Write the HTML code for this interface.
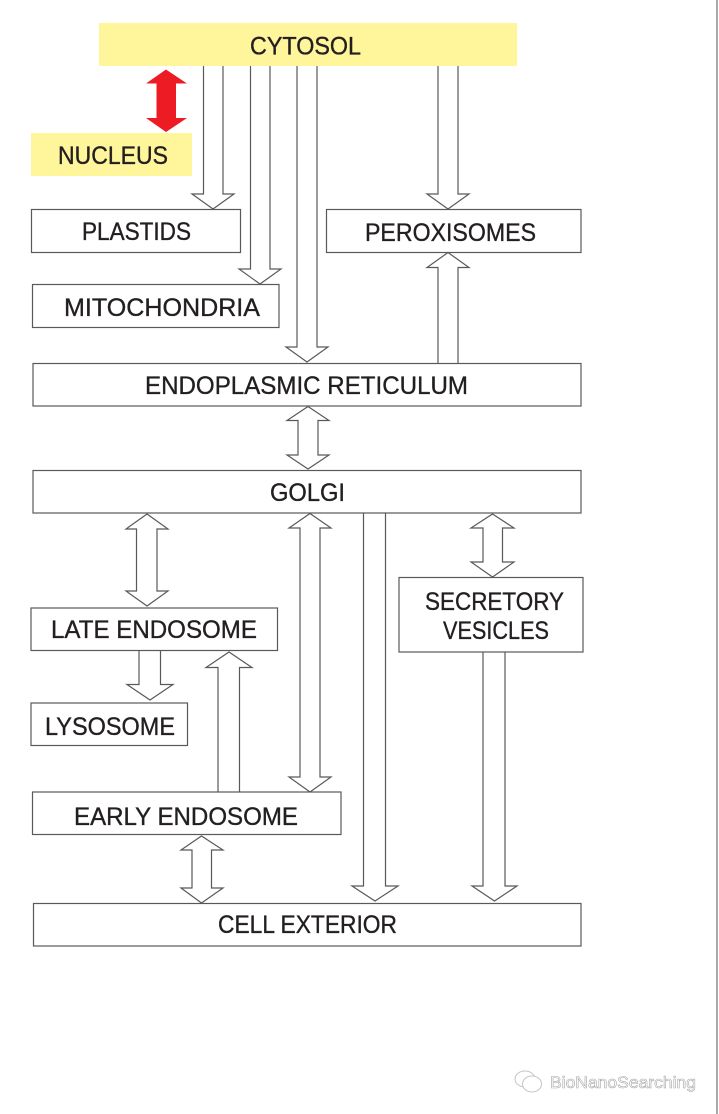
<!DOCTYPE html>
<html lang="en">
<head>
<meta charset="utf-8">
<title>Intracellular compartments</title>
<style>
html,body{margin:0;padding:0;background:#fff;width:719px;height:1114px;overflow:hidden}
svg{display:block}
text{font-family:"Liberation Sans",sans-serif;font-size:25px;fill:#231f20;stroke:#231f20;stroke-width:.35}
.b{fill:none;stroke:#58595b;stroke-width:1.2}
.a{fill:#fff;stroke:#58595b;stroke-width:1.2;stroke-linejoin:miter}
</style>
</head>
<body>
<svg width="719" height="1114" viewBox="0 0 719 1114" xmlns="http://www.w3.org/2000/svg">
<rect x="716" y="0" width="2" height="1114" fill="#a9a9a9"/>

<!-- yellow -->
<rect x="99" y="23" width="418" height="43" fill="#fff59b"/>
<rect x="31" y="133" width="161" height="43" fill="#fff59b"/>

<!-- red arrow -->
<polygon points="166,69.5 187,83.5 176,83.5 176,118 187,118 166,132 146,118 156.500,118 156.500,83.500 146,83.500" fill="#ed1c24"/>

<!-- one-way down arrows (open at the source end) -->
<polyline class="a" points="203.500,66 203.500,194 192,194 213,209 234,194 223,194 223,66"/>
<polyline class="a" points="250.500,66 250.500,269 239,269 260,284 281,269 270,269 270,66"/>
<polyline class="a" points="297,66 297,347 286,347 307,362 328,347 317,347 317,66"/>
<polyline class="a" points="438,66 438,194 427,194 448,209 469,194 458,194 458,66"/>
<polyline class="a" points="363.500,513 363.500,886 352,886 375,901 398,886 385.500,886 385.500,513"/>
<polyline class="a" points="483,652 483,886 472,886 494.500,901 517,886 505,886 505,652"/>
<polyline class="a" points="139,651 139,684.500 127,684.500 150,700 173,684.500 160.500,684.500 160.500,651"/>

<!-- one-way up arrows -->
<polyline class="a" points="438,363 438,267.500 427,267.500 448,252.500 469,267.500 458,267.500 458,363"/>
<polyline class="a" points="218,792 218,667.500 206,667.500 229,652 252,667.500 239.500,667.500 239.500,792"/>

<!-- double arrows -->
<polygon class="a" points="308,406.500 329,420.500 318,420.500 318,455 329,455 308,469 287,455 298,455 298,420.500 287,420.500"/>
<polygon class="a" points="147,514 168,529 157,529 157,591 168,591 147,606 126,591 136.500,591 136.500,529 126,529"/>
<polygon class="a" points="310,513.500 331,528 320,528 320,777 331,777 310,792 289,777 300,777 300,528 289,528"/>
<polygon class="a" points="492.500,514 514,528 502.500,528 502.500,562 514,562 492.500,577 471,562 483,562 483,528 471,528"/>
<polygon class="a" points="201.500,836 223,850 211.500,850 211.500,888 223,888 201.500,903 181,888 192,888 192,850 181,850"/>

<!-- boxes, drawn over the arrow ends -->
<rect class="b" x="31.5" y="209.5" width="209" height="43"/>
<rect class="b" x="32.5" y="284.5" width="246.5" height="43"/>
<rect class="b" x="326.5" y="209.5" width="254.5" height="43"/>
<rect class="b" x="33" y="363.5" width="548" height="42.5"/>
<rect class="b" x="33" y="470.5" width="548" height="42.5"/>
<rect class="b" x="31" y="608" width="246.5" height="42.5"/>
<rect class="b" x="399" y="577.5" width="184" height="74.5"/>
<rect class="b" x="31" y="703" width="156.5" height="42.5"/>
<rect class="b" x="32.5" y="792" width="308.5" height="42.5"/>
<rect class="b" x="33.5" y="903.5" width="547.5" height="42.5"/>

<!-- labels -->
<text x="250" y="54.500" textLength="111" lengthAdjust="spacingAndGlyphs">CYTOSOL</text>
<text x="58" y="164" textLength="110" lengthAdjust="spacingAndGlyphs">NUCLEUS</text>
<text x="82" y="240" textLength="109" lengthAdjust="spacingAndGlyphs">PLASTIDS</text>
<text x="365" y="241" textLength="171" lengthAdjust="spacingAndGlyphs">PEROXISOMES</text>
<text x="64" y="316" textLength="196" lengthAdjust="spacingAndGlyphs">MITOCHONDRIA</text>
<text x="145" y="394" textLength="323" lengthAdjust="spacingAndGlyphs">ENDOPLASMIC RETICULUM</text>
<text x="270" y="501" textLength="75" lengthAdjust="spacingAndGlyphs">GOLGI</text>
<text x="51" y="638" textLength="206" lengthAdjust="spacingAndGlyphs">LATE ENDOSOME</text>
<text x="425" y="610" textLength="139" lengthAdjust="spacingAndGlyphs">SECRETORY</text>
<text x="443" y="639" textLength="106" lengthAdjust="spacingAndGlyphs">VESICLES</text>
<text x="45" y="735" textLength="130" lengthAdjust="spacingAndGlyphs">LYSOSOME</text>
<text x="74" y="825" textLength="224" lengthAdjust="spacingAndGlyphs">EARLY ENDOSOME</text>
<text x="218" y="933" textLength="179" lengthAdjust="spacingAndGlyphs">CELL EXTERIOR</text>

<!-- watermark -->
<g fill="#fff" stroke="#c4c4c4" stroke-width="1">
<ellipse cx="525" cy="1079" rx="10" ry="8"/>
<ellipse cx="532" cy="1084" rx="9.500" ry="8"/>
</g>
<text x="550" y="1088" textLength="146" lengthAdjust="spacingAndGlyphs" style="font-size:17px;fill:#fff;stroke:#a8a8a8;stroke-width:.6">BioNanoSearching</text>
</svg>
</body>
</html>
